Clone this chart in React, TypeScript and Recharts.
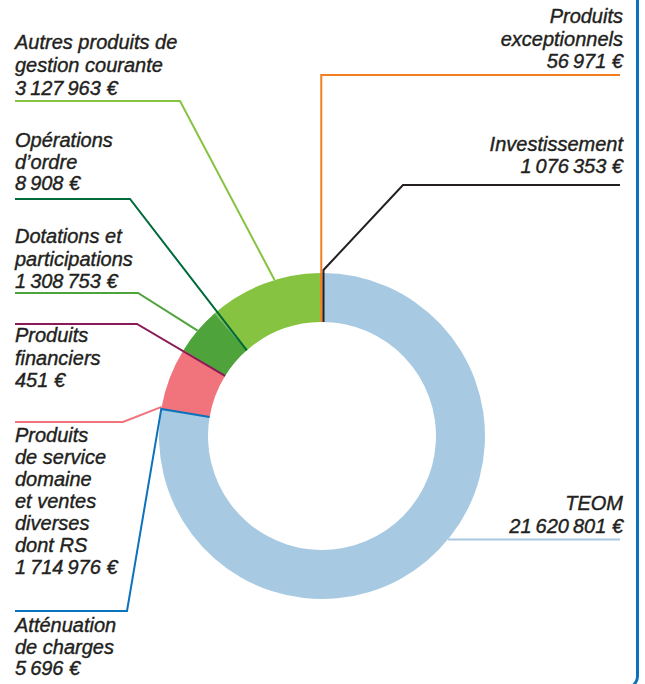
import { PieChart, Pie, Cell } from "recharts";

// ring categories, counter-clockwise from 12 o'clock
const categories = [
  "Produits exceptionnels",
  "Autres produits de gestion courante",
  "Opérations d’ordre",
  "Dotations et participations",
  "Produits financiers",
  "Produits de service domaine et ventes diverses dont RS",
  "Atténuation de charges",
  "TEOM",
];

const amounts = [56971, 3127963, 8908, 1308753, 451, 1714976, 5696, 21620801];

// shown at the close of the ring, not part of it
const investissement = 1076353;

// how each label is broken over lines
const labelLines = [
  ["Produits", "exceptionnels"],
  ["Autres produits de", "gestion courante"],
  ["Opérations", "d’ordre"],
  ["Dotations et", "participations"],
  ["Produits", "financiers"],
  ["Produits", "de service", "domaine", "et ventes", "diverses", "dont RS"],
  ["Atténuation", "de charges"],
  ["TEOM"],
];

const sliceColors = [
  "#f47f20",
  "#86c341",
  "#006a3a",
  "#4ea33b",
  "#8a1b57",
  "#f1737c",
  "#0b72bd",
  "#a7c9e1",
];

const lineColors = [
  "#f47f20",
  "#86c341",
  "#006a3a",
  "#4ea33b",
  "#8a1b57",
  "#f1737c",
  "#0b72bd",
  "#a7c9e1",
];

const CX = 322;
const CY = 436;
const INNER = 114;
const OUTER = 163;

const textColor = "#231f20";
const font = '"Liberation Sans", Arial, sans-serif';

// where each leader line leaves the ring and how it runs to its text
type Layout = {
  r: "inner" | "outer";
  frac: number;
  radial?: boolean;
  route: [number | null, number | null][];
  tx: number;
  ty: number;
  lh: number;
  end?: boolean;
};

const layout: Layout[] = [
  { r: "inner", frac: 0.5, route: [[null, 75], [620, 75]], tx: 623, ty: 23, lh: 22.5, end: true },
  { r: "outer", frac: 0.4, route: [[180, 101], [15, 101]], tx: 15, ty: 49, lh: 23 },
  { r: "inner", frac: 0.5, route: [[130, 199], [15, 199]], tx: 15, ty: 147, lh: 21.5 },
  { r: "outer", frac: 0.5, route: [[138, 293], [15, 293]], tx: 15, ty: 243, lh: 22.5 },
  { r: "inner", frac: 0.5, route: [[137, 324], [15, 324]], tx: 15, ty: 342, lh: 22.5 },
  { r: "outer", frac: 0.97, route: [[123, 422], [15, 422]], tx: 15, ty: 442, lh: 22 },
  { r: "inner", frac: 0.5, radial: true, route: [[127, 611], [15, 611]], tx: 15, ty: 632, lh: 21.5 },
  { r: "outer", frac: 0.537, route: [[620, null]], tx: 623, ty: 510, lh: 23, end: true },
];

const fmt = (n: number) =>
  String(n).replace(/\B(?=(\d{3})+(?!\d))/g, "\u2009") + " €";

const data = categories.map((name, i) => ({ name, value: amounts[i] }));

const RAD = Math.PI / 180;
const polar = (cx: number, cy: number, r: number, a: number) => ({
  x: cx + r * Math.cos(a * RAD),
  y: cy - r * Math.sin(a * RAD),
});

function TextBlock({ lines, x, y, lh, end }: { lines: string[]; x: number; y: number; lh: number; end?: boolean }) {
  return (
    <text
      x={x}
      y={y}
      textAnchor={end ? "end" : "start"}
      fontFamily={font}
      fontStyle="italic"
      fontSize={20}
      fill={textColor}
      stroke={textColor}
      strokeWidth={0.4}
    >
      {lines.map((l, i) => (
        <tspan key={i} x={x} y={y + i * lh}>
          {l}
        </tspan>
      ))}
    </text>
  );
}

function renderLabel(props: any) {
  const { cx, cy, innerRadius, outerRadius, startAngle, endAngle, index } = props;
  const cfg = layout[index];
  const angle = startAngle + (endAngle - startAngle) * cfg.frac;
  const start = polar(cx, cy, cfg.r === "inner" ? innerRadius : outerRadius, angle);
  const pts = [start];
  if (cfg.radial) pts.push(polar(cx, cy, outerRadius, angle));
  cfg.route.forEach(([x, y]) => pts.push({ x: x ?? start.x, y: y ?? start.y }));

  const lines = [...labelLines[index], fmt(amounts[index])];

  let extra = null;
  if (index === categories.length - 1) {
    // Investissement marker where the ring closes
    const s = polar(cx, cy, innerRadius, endAngle);
    const ip = [
      { x: s.x + 1.5, y: s.y },
      { x: s.x + 1.5, y: cy - outerRadius - 3 },
      { x: 403, y: 185 },
      { x: 620, y: 185 },
    ];
    extra = (
      <g>
        <polyline
          points={ip.map((p) => `${p.x},${p.y}`).join(" ")}
          fill="none"
          stroke="#231f20"
          strokeWidth={2}
        />
        <TextBlock lines={["Investissement", fmt(investissement)]} x={623} y={151} lh={22} end />
      </g>
    );
  }

  return (
    <g key={`lbl-${index}`}>
      <polyline
        points={pts.map((p) => `${p.x},${p.y}`).join(" ")}
        fill="none"
        stroke={lineColors[index]}
        strokeWidth={2}
      />
      <TextBlock lines={lines} x={cfg.tx} y={cfg.ty} lh={cfg.lh} end={cfg.end} />
      {extra}
    </g>
  );
}

export default function App() {
  return (
    <div
      style={{
        position: "absolute",
        left: 0,
        top: 0,
        width: 645,
        height: 684,
        overflow: "hidden",
        background: "#fff",
      }}
    >
      <div
        style={{
          position: "absolute",
          left: -20,
          top: -20,
          width: 658.5,
          height: 709.5,
          border: "3px solid #0b72bd",
          borderRadius: 14,
          boxSizing: "border-box",
        }}
      />
      <div style={{ position: "absolute", left: 0, top: 0 }}>
        <PieChart width={645} height={684} margin={{ top: 0, right: 0, bottom: 0, left: 0 }}>
          <Pie
            data={data}
            dataKey="value"
            nameKey="name"
            cx={CX}
            cy={CY}
            innerRadius={INNER}
            outerRadius={OUTER}
            startAngle={90}
            endAngle={450}
            stroke="none"
            label={renderLabel}
            labelLine={false}
            isAnimationActive={false}
          >
            {data.map((_e, i) => (
              <Cell key={`cell-${i}`} fill={sliceColors[i]} />
            ))}
          </Pie>
        </PieChart>
      </div>
    </div>
  );
}
